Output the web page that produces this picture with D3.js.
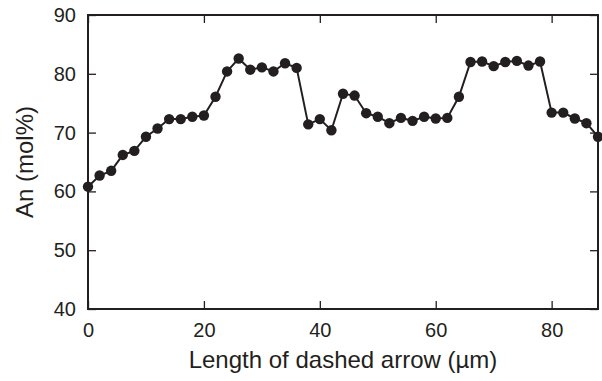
<!DOCTYPE html>
<html>
<head>
<meta charset="utf-8">
<script src="https://cdn.jsdelivr.net/npm/d3@7"></script>
<style>
  html, body { margin: 0; padding: 0; background: #fff; overflow: hidden; }
  svg { display: block; }
  svg text { font-family: "Liberation Sans", Arial, Helvetica, sans-serif; fill: #231f20; }
</style>
</head>
<body>
<svg id="chart"></svg>
<script>
// Distance along the dashed arrow (µm)
const lengths = [0, 2, 4, 6, 8, 10, 12, 14, 16, 18, 20, 22, 24, 26, 28, 30, 32, 34, 36, 38, 40, 42, 44,
  46, 48, 50, 52, 54, 56, 58, 60, 62, 64, 66, 68, 70, 72, 74, 76, 78, 80, 82, 84, 86, 88];

// Anorthite content (mol%)
const anValues = [60.8, 62.7, 63.5, 66.2, 66.9, 69.3, 70.7, 72.3, 72.3, 72.7, 72.9, 76.1, 80.4, 82.6, 80.7,
  81.1, 80.4, 81.8, 81.0, 71.4, 72.3, 70.4, 76.6, 76.3, 73.3, 72.7, 71.6, 72.5, 72.0, 72.7, 72.4, 72.5,
  76.1, 82.0, 82.1, 81.3, 82.0, 82.2, 81.4, 82.1, 73.4, 73.4, 72.4, 71.6, 69.3];

const xTicks = [0, 20, 40, 60, 80];
const yTicks = [40, 50, 60, 70, 80, 90];

const width = 602, height = 381;
const margin = { top: 15, right: 4, bottom: 72, left: 88 };
const innerWidth = width - margin.left - margin.right;
const innerHeight = height - margin.top - margin.bottom;
const ink = "#231f20";

const data = lengths.map((d, i) => ({ x: d, y: anValues[i] }));

const svg = d3.select("#chart")
  .attr("width", width)
  .attr("height", height);

const g = svg.append("g")
  .attr("transform", `translate(${margin.left},${margin.top})`);

const x = d3.scaleLinear().domain([0, 88]).range([0, innerWidth]);
const y = d3.scaleLinear().domain([40, 90]).range([innerHeight, 0]);

// bottom axis with labels, ticks pointing inward
const axBottom = g.append("g")
  .attr("transform", `translate(0,${innerHeight})`)
  .call(d3.axisBottom(x).tickValues(xTicks).tickSize(-8).tickSizeOuter(0).tickPadding(14));

const axLeft = g.append("g")
  .call(d3.axisLeft(y).tickValues(yTicks).tickSize(-8).tickSizeOuter(0).tickPadding(12));

// mirrored ticks on top and right (no labels)
const axTop = g.append("g")
  .call(d3.axisTop(x).tickValues(xTicks).tickSize(-8).tickSizeOuter(0));

const axRight = g.append("g")
  .attr("transform", `translate(${innerWidth},0)`)
  .call(d3.axisRight(y).tickValues(yTicks).tickSize(-8).tickSizeOuter(0));

[axTop, axRight].forEach(a => a.selectAll("text").remove());

[axBottom, axLeft, axTop, axRight].forEach(a => {
  a.select(".domain").remove();
  a.selectAll("line").attr("stroke", ink).attr("stroke-width", 1.3);
  a.selectAll("text").style("font-size", "20px").attr("fill", ink);
});

// frame
g.append("rect")
  .attr("width", innerWidth)
  .attr("height", innerHeight)
  .attr("fill", "none")
  .attr("stroke", ink)
  .attr("stroke-width", 2);

// profile line
g.append("path")
  .datum(data)
  .attr("fill", "none")
  .attr("stroke", ink)
  .attr("stroke-width", 2)
  .attr("d", d3.line().x(d => x(d.x)).y(d => y(d.y)));

g.selectAll("circle")
  .data(data)
  .enter()
  .append("circle")
  .attr("cx", d => x(d.x))
  .attr("cy", d => y(d.y))
  .attr("r", 5.2)
  .attr("fill", ink);

// axis titles
svg.append("text")
  .attr("x", margin.left + innerWidth / 2)
  .attr("y", 368)
  .attr("text-anchor", "middle")
  .style("font-size", "24px")
  .text("Length of dashed arrow (µm)");

svg.append("text")
  .attr("transform", `translate(33,${margin.top + innerHeight / 2}) rotate(-90)`)
  .attr("text-anchor", "middle")
  .style("font-size", "24px")
  .text("An (mol%)");
</script>
</body>
</html>
